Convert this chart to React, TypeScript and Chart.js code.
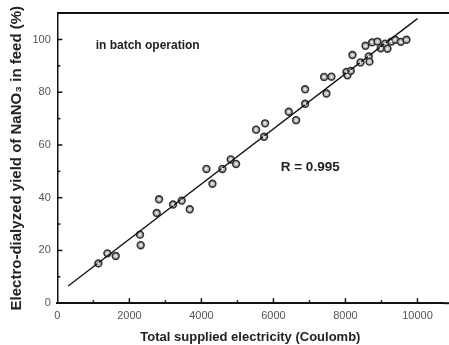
import React, { useEffect, useRef } from "react";
import { Chart, registerables } from "chart.js";

Chart.register(...registerables);

// Measured points: total supplied electricity (C) vs yield (%)
const electricity = [
  1139, 1389, 1620, 2296, 2315, 2759, 2824, 3213, 3454, 3676,
  4139, 4306, 4583, 4815, 4963, 5519, 5741, 5769, 6426, 6630,
  6880, 6880, 7407, 7472, 7611, 8028, 8056, 8148, 8194, 8417,
  8556, 8648, 8667, 8741, 8889, 8981, 9102, 9167, 9278, 9380,
  9537, 9694,
];
const yieldPct = [
  15.1, 18.9, 17.9, 26.0, 22.0, 34.2, 39.4, 37.4, 38.9, 35.6,
  50.9, 45.3, 50.9, 54.5, 52.8, 65.8, 63.1, 68.2, 72.6, 69.4,
  75.6, 81.1, 85.8, 79.5, 85.9, 87.7, 86.4, 88.1, 94.1, 91.3,
  97.6, 93.6, 91.6, 98.9, 99.2, 96.7, 98.4, 96.5, 99.2, 99.9,
  99.1, 99.9,
];

// Regression line end points
const fitX = [300, 10000];
const fitY = [6.5, 107.9];

// Tick positions (major ticks are labelled, minor ticks are not)
const xMajorTicks = [0, 2000, 4000, 6000, 8000, 10000];
const xMinorTicks = [1000, 3000, 5000, 7000, 9000];
const yMajorTicks = [0, 20, 40, 60, 80, 100];
const yMinorTicks = [10, 30, 50, 70, 90];

const xLabelTitle = "Total supplied electricity (Coulomb)";
const yLabelTitle = "Electro-dialyzed yield of NaNO\u2083 in feed (%)";
const noteBatch = "in batch operation";
const noteR = "R = 0.995";
const noteBatchPos = [1064, 97.5];
const noteRPos = [6203, 51.4];

const FONT = "'Liberation Sans', Arial, sans-serif";

const framePlugin = {
  id: "frame",
  afterDatasetsDraw(chart: any) {
    const { ctx, chartArea, scales } = chart;
    const xs = scales.x;
    const ys = scales.y;
    ctx.save();
    ctx.strokeStyle = "#111";
    // top frame line (runs to the right edge of the figure)
    ctx.lineWidth = 2;
    ctx.beginPath();
    ctx.moveTo(chartArea.left, chartArea.top);
    ctx.lineTo(chart.width, chartArea.top);
    ctx.stroke();
    // bottom axis continues to the figure edge
    ctx.beginPath();
    ctx.moveTo(chartArea.right, chartArea.bottom);
    ctx.lineTo(chart.width, chartArea.bottom);
    ctx.stroke();
    // inward ticks
    ctx.lineWidth = 1.5;
    const xt = (vals: number[], len: number) => {
      for (const v of vals) {
        const px = xs.getPixelForValue(v);
        ctx.beginPath();
        ctx.moveTo(px, chartArea.bottom);
        ctx.lineTo(px, chartArea.bottom - len);
        ctx.stroke();
      }
    };
    const yt = (vals: number[], len: number) => {
      for (const v of vals) {
        const py = ys.getPixelForValue(v);
        ctx.beginPath();
        ctx.moveTo(chartArea.left, py);
        ctx.lineTo(chartArea.left + len, py);
        ctx.stroke();
      }
    };
    xt(xMajorTicks.slice(1), 5);
    xt(xMinorTicks, 3);
    yt(yMajorTicks.slice(1), 5);
    yt(yMinorTicks, 3);
    // marker centres
    const meta = chart.getDatasetMeta(1);
    ctx.fillStyle = "#f4f4f4";
    for (const el of meta.data) {
      ctx.beginPath();
      ctx.arc(el.x, el.y, 1.1, 0, Math.PI * 2);
      ctx.fill();
    }
    // annotations
    ctx.fillStyle = "#222";
    ctx.textBaseline = "middle";
    ctx.textAlign = "left";
    ctx.font = `bold 12px ${FONT}`;
    ctx.fillText(noteBatch, xs.getPixelForValue(noteBatchPos[0]), ys.getPixelForValue(noteBatchPos[1]));
    ctx.font = `bold 13.5px ${FONT}`;
    ctx.fillText(noteR, xs.getPixelForValue(noteRPos[0]), ys.getPixelForValue(noteRPos[1]));
    ctx.restore();
  },
};

export default function App() {
  const ref = useRef<HTMLCanvasElement | null>(null);

  useEffect(() => {
    document.body.style.margin = "0";
    const canvas = ref.current;
    if (!canvas) return;
    const chart = new Chart(canvas, {
      type: "scatter",
      data: {
        datasets: [
          {
            type: "line",
            data: fitX.map((x, i) => ({ x, y: fitY[i] })),
            borderColor: "#111",
            borderWidth: 1.3,
            pointRadius: 0,
            fill: false,
          },
          {
            type: "scatter",
            data: electricity.map((x, i) => ({ x, y: yieldPct[i] })),
            pointRadius: 3.4,
            pointBorderWidth: 1.6,
            borderColor: "#333",
            backgroundColor: "#b8b8b8",
          },
        ],
      } as any,
      options: {
        animation: false,
        responsive: false,
        maintainAspectRatio: false,
        layout: { padding: { top: 12, right: 0, left: 8, bottom: 0 } },
        plugins: {
          legend: { display: false },
          tooltip: { enabled: false },
        },
        scales: {
          x: {
            type: "linear",
            min: 0,
            max: 10720,
            grid: { display: false, drawTicks: false },
            border: { display: true, color: "#111", width: 2 },
            afterBuildTicks: (scale: any) => {
              scale.ticks = xMajorTicks.map((v) => ({ value: v }));
            },
            ticks: {
              autoSkip: false,
              maxRotation: 0,
              padding: 6.5,
              color: "#555",
              font: { family: FONT, size: 11 },
              callback: (v: any) => String(v),
            },
            title: {
              display: true,
              text: xLabelTitle,
              color: "#222",
              font: { family: FONT, size: 13, weight: "bold" },
              padding: { top: 0, bottom: 0 },
            },
          },
          y: {
            type: "linear",
            min: 0,
            max: 110,
            grid: { display: false, drawTicks: false },
            border: { display: true, color: "#111", width: 1.5 },
            afterBuildTicks: (scale: any) => {
              scale.ticks = yMajorTicks.map((v) => ({ value: v }));
            },
            ticks: {
              autoSkip: false,
              padding: 6.5,
              color: "#555",
              font: { family: FONT, size: 11 },
              callback: (v: any) => String(v),
            },
            title: {
              display: true,
              text: yLabelTitle,
              color: "#222",
              font: { family: FONT, size: 15, weight: "bold" },
              padding: { top: 0, bottom: 0 },
            },
          },
        },
      } as any,
      plugins: [framePlugin],
    });
    return () => chart.destroy();
  }, []);

  return <canvas ref={ref} width={449} height={345} style={{ display: "block" }} />;
}
